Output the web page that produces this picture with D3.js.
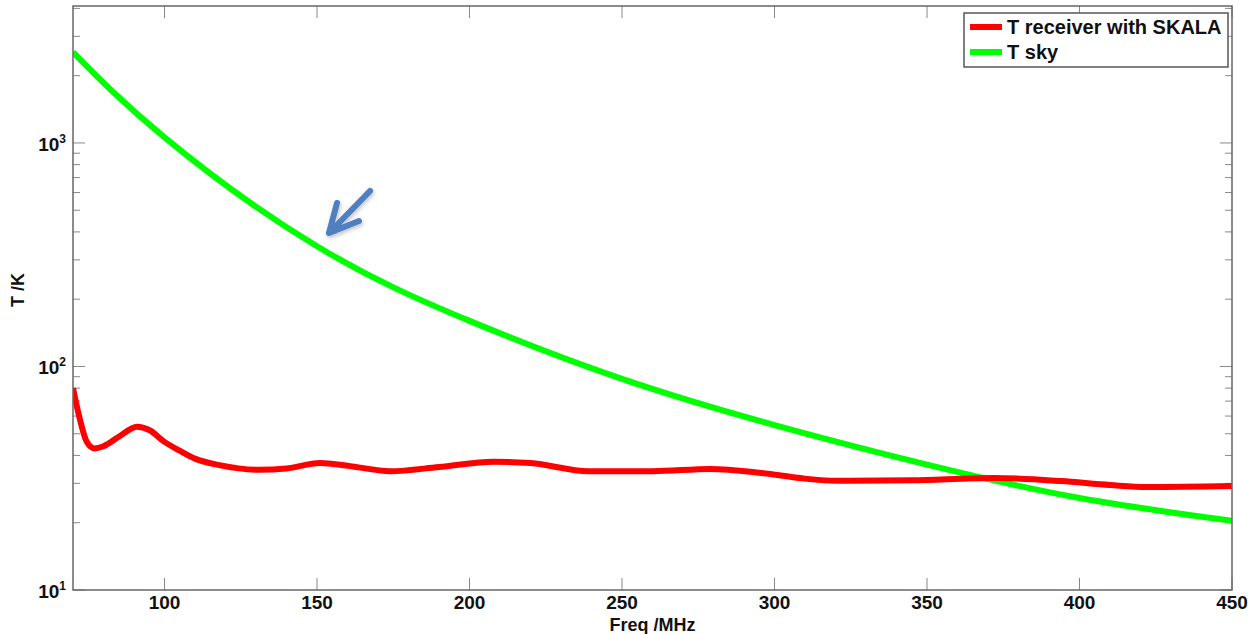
<!DOCTYPE html>
<html>
<head>
<meta charset="utf-8">
<script src="https://cdn.jsdelivr.net/npm/d3@7"></script>
<style>
  body { margin: 0; background: #fff; }
  text { font-family: "Liberation Sans", Arial, sans-serif; font-weight: bold; fill: #111; }
</style>
</head>
<body>
<div id="Chart"></div>
<script>
// data
var rxFreq = [70, 72, 74.5, 77, 80, 85, 91, 95, 100, 105, 110, 118, 131, 140, 151, 160, 174, 190, 208, 220, 239, 260, 279, 295, 310, 320, 345, 372, 394, 410, 422, 450];
var rxTemp = [80, 60, 46, 43, 44, 48.5, 53.8, 52, 46, 42, 38.7, 36.2, 34.5, 35, 37, 36, 34, 35.5, 37.5, 37, 34, 34, 34.8, 33.5, 31.5, 30.8, 31, 31.7, 30.7, 29.5, 28.9, 29.2];
var skyFreq = [70, 100, 150, 200, 250, 300, 350, 400, 450];
var skyTemp = [2550, 1060, 345, 160, 88, 54.7, 36.4, 25.8, 20.4];
var xTicks = [100, 150, 200, 250, 300, 350, 400, 450];
var yMajor = [10, 100, 1000];
var seriesNames = ["T receiver with SKALA", "T sky"];
var seriesColors = ["#ff0000", "#00ff00"];

var W = 1248, H = 634;
var margin = {top: 6, right: 16, bottom: 44, left: 73},
    width = W - margin.left - margin.right,
    height = H - margin.top - margin.bottom;

var svg = d3.select("#Chart").append("svg")
    .attr("width", W).attr("height", H);

var x = d3.scaleLinear().domain([70, 450]).range([0, width]);
var y = d3.scaleLog().domain([10, 4100]).range([height, 0]);

var g = svg.append("g")
    .attr("transform", "translate(" + margin.left + "," + margin.top + ")");

// minor ticks for log axis
var yMinor = [];
[10, 100, 1000].forEach(function(d){
    for (var k = 2; k <= 9; k++) { if (d * k <= 4100) yMinor.push(d * k); }
});

var tickColor = "#888";
var majorLen = 12, minorLen = 7;

// x ticks bottom and top
xTicks.forEach(function(t){
    g.append("line").attr("x1", x(t)).attr("x2", x(t)).attr("y1", height).attr("y2", height - majorLen)
        .attr("stroke", tickColor).attr("stroke-width", 1);
    g.append("line").attr("x1", x(t)).attr("x2", x(t)).attr("y1", 0).attr("y2", majorLen)
        .attr("stroke", tickColor).attr("stroke-width", 1);
});
// y ticks left and right
yMajor.concat(yMinor).forEach(function(t){
    var len = yMajor.indexOf(t) >= 0 ? majorLen : minorLen;
    g.append("line").attr("x1", 0).attr("x2", len).attr("y1", y(t)).attr("y2", y(t))
        .attr("stroke", tickColor).attr("stroke-width", 1);
    g.append("line").attr("x1", width).attr("x2", width - len).attr("y1", y(t)).attr("y2", y(t))
        .attr("stroke", tickColor).attr("stroke-width", 1);
});

// x tick labels
g.selectAll(".xlab").data(xTicks).enter().append("text")
    .attr("class", "xlab")
    .attr("x", d => x(d)).attr("y", height + 19)
    .attr("text-anchor", "middle")
    .style("font-size", "19px")
    .text(d => d);

// y tick labels as 10^n
yMajor.forEach(function(t){
    var lab = g.append("text")
        .attr("x", -7).attr("y", y(t) + 8)
        .attr("text-anchor", "end")
        .style("font-size", "19px");
    lab.append("tspan").text("10");
    lab.append("tspan").attr("dy", -8).style("font-size", "12px").text(Math.round(Math.log10(t)));
});

// axis labels
svg.append("text")
    .attr("x", margin.left + width / 2).attr("y", 631)
    .attr("text-anchor", "middle")
    .style("font-size", "18px")
    .text("Freq /MHz");
svg.append("text")
    .attr("transform", "translate(24," + (margin.top + height / 2 - 8) + ") rotate(-90)")
    .attr("text-anchor", "middle")
    .style("font-size", "18px")
    .text("T /K");

// lines
var rxLine = d3.line()
    .x(d => x(d[0]))
    .y(d => y(d[1]))
    .curve(d3.curveMonotoneX);
var skyLine = d3.line()
    .x(d => x(d[0]))
    .y(d => y(d[1]))
    .curve(d3.curveNatural);

var clip = svg.append("clipPath").attr("id", "clip")
    .append("rect").attr("width", width).attr("height", height);

g.append("path")
    .datum(skyFreq.map((f, i) => [f, skyTemp[i]]))
    .attr("fill", "none").attr("stroke", seriesColors[1]).attr("stroke-width", 6)
    .attr("clip-path", "url(#clip)")
    .attr("d", skyLine);
g.append("path")
    .datum(rxFreq.map((f, i) => [f, rxTemp[i]]))
    .attr("fill", "none").attr("stroke", seriesColors[0]).attr("stroke-width", 6)
    .attr("clip-path", "url(#clip)")
    .attr("d", rxLine);

// axis box
g.append("rect").attr("width", width).attr("height", height)
    .attr("fill", "none").attr("stroke", "#666").attr("stroke-width", 1.5);

// arrow annotation
var defs = svg.append("defs");
var f = defs.append("filter").attr("id", "shadow").attr("x", "-50%").attr("y", "-50%").attr("width", "200%").attr("height", "200%");
f.append("feDropShadow").attr("dx", 1).attr("dy", 2).attr("stdDeviation", 2).attr("flood-color", "#000").attr("flood-opacity", 0.25);
svg.append("path")
    .attr("d", "M370,191 L334,228 M329,233 L337,203 M329,233 L359,221")
    .attr("stroke", "#4f7fc0").attr("stroke-width", 6).attr("stroke-linecap", "round")
    .attr("stroke-linejoin", "round").attr("fill", "none")
    .attr("filter", "url(#shadow)");

// legend
var leg = svg.append("g").attr("transform", "translate(964,13)");
leg.append("rect").attr("width", 264).attr("height", 54)
    .attr("fill", "#fff").attr("stroke", "#555").attr("stroke-width", 1.5);
seriesNames.forEach(function(n, i){
    leg.append("line").attr("x1", 6).attr("x2", 38).attr("y1", 14 + i * 25).attr("y2", 14 + i * 25)
        .attr("stroke", seriesColors[i]).attr("stroke-width", 6);
    leg.append("text").attr("x", 43).attr("y", 21 + i * 25)
        .style("font-size", "20px").text(n);
});
</script>
</body>
</html>
